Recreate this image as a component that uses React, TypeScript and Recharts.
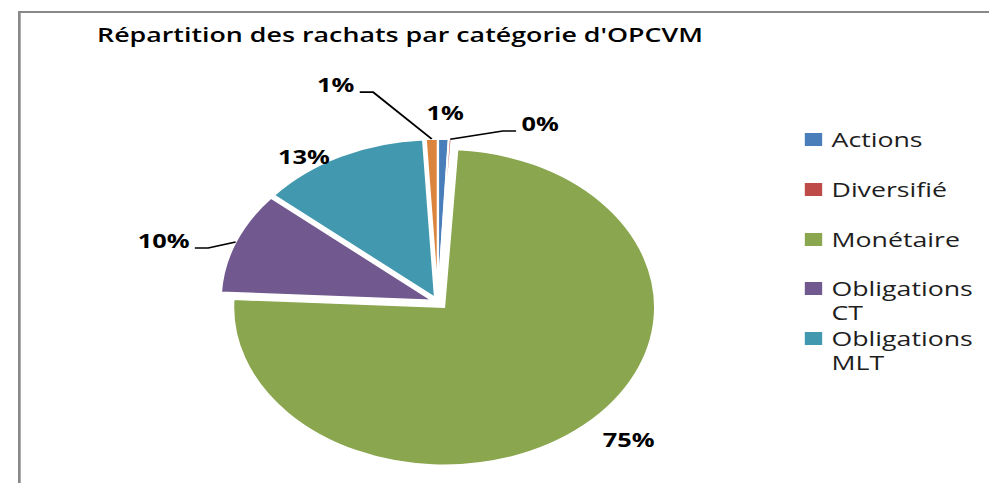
import React from 'react';
import { PieChart, Pie, Cell, Legend } from 'recharts';

// ---------- data ----------
const TITLE = "Répartition des rachats par catégorie d'OPCVM";
const CATEGORIES = ['Actions', 'Diversifié', 'Monétaire', 'Obligations CT', 'Obligations MLT', 'Contractuel'];
const VALUES = [0.8, 0.2, 74.8, 10.4, 12.9, 0.9];
const COLORS = ['#4A7EBB', '#BE4B48', '#8AA64F', '#71588F', '#4198AF', '#DB843D'];
// the source legend is truncated: only the first five entries are visible
const LEGEND_COUNT = 5;

const data = CATEGORIES.map((name, i) => ({ name, value: VALUES[i] }));

// ---------- layout / style ----------
const SX = 989 / 741; // the source picture is stretched horizontally
const W = 741;
const H = 483;
const CX = 328.1;
const CY = 302;
const R = 158;
const EXPLODE = [5, 5, 7, 5, 5, 5];
const FONT = "'Open Sans', 'DejaVu Sans', sans-serif";
const RAD = Math.PI / 180;

// per-slice label placement: extra radius, angle shift, leader side (0 none, 1 right, -1 left)
const LABEL_PLACE = [
  { dr: 26, da: -0.2, leader: 0 },
  { dr: 18, da: -16.1, leader: 1 },
  { dr: 33.8, da: 4.4, leader: 0 },
  { dr: 27, da: 5.2, leader: -1 },
  { dr: 13.4, da: 8.5, leader: 0 },
  { dr: 55, da: 14.3, leader: -1 },
];

const polar = (cx: number, cy: number, r: number, a: number): [number, number] => [
  cx + r * Math.cos(-a * RAD),
  cy + r * Math.sin(-a * RAD),
];

const total = VALUES.reduce((s, v) => s + v, 0);
const midAngles = VALUES.map((v, i) => {
  const before = VALUES.slice(0, i).reduce((s, x) => s + x, 0);
  return 90 - (360 * (before + v / 2)) / total;
});
const offsets = midAngles.map((a, i) => polar(0, 0, EXPLODE[i], a));

const renderLabel = (props: any) => {
  const { cx, cy, midAngle, outerRadius, percent, index } = props;
  const p = LABEL_PLACE[index];
  const [lx, ly] = polar(cx, cy, outerRadius + p.dr, midAngle + p.da);
  const text = `${Math.round(percent * 100)}%`;
  const textStyle = { fontFamily: FONT, fontSize: 19, fontWeight: 700, fill: '#000' } as const;
  if (!p.leader) {
    return (
      <text key={`l${index}`} x={lx} y={ly} textAnchor="middle" dominantBaseline="central" style={textStyle}>
        {text}
      </text>
    );
  }
  const [sx, sy] = polar(cx, cy, outerRadius, midAngle);
  const elbowX = lx - p.leader * 10;
  return (
    <g key={`l${index}`}>
      <path d={`M${sx},${sy}L${elbowX},${ly}L${lx},${ly}`} stroke="#000" strokeWidth={1.6} fill="none" />
      <text x={lx + p.leader * 4} y={ly} textAnchor={p.leader > 0 ? 'start' : 'end'} style={textStyle}>
        {text}
      </text>
    </g>
  );
};

const renderLegend = () => (
  <div style={{ fontFamily: FONT, fontSize: 20, color: '#1e1e1e' }}>
    {CATEGORIES.slice(0, LEGEND_COUNT).map((name, i) => (
      <div key={name} style={{ display: 'flex', alignItems: 'flex-start', height: 49.75 }}>
        <span
          style={{ width: 13, height: 13, background: COLORS[i], marginTop: 5, marginRight: 7, flex: 'none' }}
        />
        <span style={{ lineHeight: '24px', width: 118 }}>{name}</span>
      </div>
    ))}
  </div>
);

export default function App() {
  return (
    <div
      style={{ position: 'fixed', left: 0, top: 0, width: 989, height: 483, overflow: 'hidden', background: '#fff' }}
    >
      <style>{`html, body { margin: 0; overflow: hidden; scrollbar-width: none; } ::-webkit-scrollbar { display: none; }`}</style>
      <div
        style={{
          position: 'absolute',
          left: 0,
          top: 0,
          width: W,
          height: H,
          overflow: 'hidden',
          transform: `scaleX(${SX})`,
          transformOrigin: '0 0',
        }}
      >
        <svg width={W} height={H} style={{ position: 'absolute', left: 0, top: 0 }}>
          <path d={`M14.5,${H}V12H${W}`} stroke="#888" strokeWidth={2} fill="none" />
          <text
            x={72.7}
            y={42}
            textLength={454}
            lengthAdjust="spacingAndGlyphs"
            style={{ fontFamily: FONT, fontSize: 19, fontWeight: 600, fill: '#000' }}
          >
            {TITLE}
          </text>
        </svg>
        <div style={{ position: 'absolute', left: 0, top: 0 }}>
          <PieChart width={W} height={H} margin={{ top: 0, right: 0, bottom: 0, left: 0 }}>
            {data.map((slice, k) => (
              <Pie
                key={slice.name}
                data={data}
                dataKey="value"
                nameKey="name"
                cx={CX + offsets[k][0]}
                cy={CY + offsets[k][1]}
                outerRadius={R}
                startAngle={90}
                endAngle={-270}
                stroke="#fff"
                strokeWidth={1.5}
                label={(p: any) => (p.index === k ? renderLabel(p) : null)}
                labelLine={false}
                isAnimationActive={false}
                legendType="none"
              >
                {data.map((d, i) => (
                  <Cell key={d.name} fill={i === k ? COLORS[i] : 'none'} stroke={i === k ? '#fff' : 'none'} />
                ))}
              </Pie>
            ))}
            <Legend
              layout="vertical"
              align="right"
              verticalAlign="top"
              content={renderLegend}
              wrapperStyle={{ position: 'absolute', left: 603, top: 128, width: 138 }}
            />
          </PieChart>
        </div>
      </div>
    </div>
  );
}
